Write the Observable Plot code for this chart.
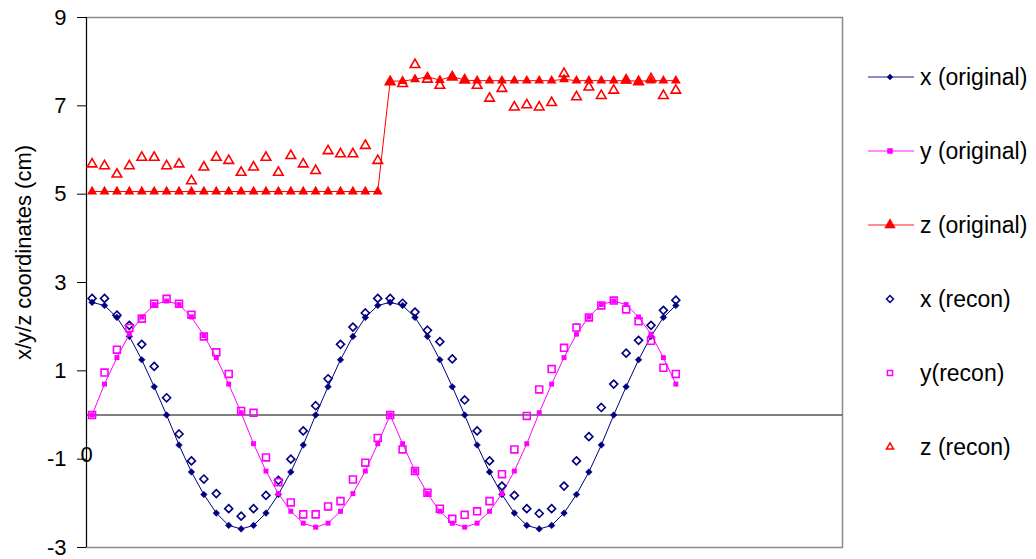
<!DOCTYPE html>
<html>
<head>
<meta charset="utf-8">
<script src="https://cdn.jsdelivr.net/npm/d3@7"></script>
<script src="https://cdn.jsdelivr.net/npm/@observablehq/plot@0.6"></script>
<style>
  html, body { margin: 0; padding: 0; background: #fff; }
  #wrap { position: relative; width: 1036px; height: 559px; font-family: Arial, "Liberation Sans", sans-serif; }
  #legend { position: absolute; left: 866px; top: 63px; display: flex; flex-direction: column; gap: 46px; }
  .row { display: flex; align-items: center; height: 28px; font-size: 23px; color: #000; white-space: nowrap; }
  .row svg { margin-right: 4px; }
</style>
</head>
<body>
<div id="wrap"><div id="legend"></div></div>
<script>
// ---- data ----
const sampleIndex = d3.range(48);
const xOriginal = [2.55, 2.48, 2.21, 1.78, 1.25, 0.64, 0, -0.68, -1.29, -1.80, -2.22, -2.50, -2.58, -2.50, -2.22, -1.80, -1.29, -0.68, 0, 0.64, 1.25, 1.78, 2.21, 2.48,
                   2.55, 2.48, 2.21, 1.78, 1.25, 0.64, 0, -0.68, -1.29, -1.80, -2.22, -2.50, -2.58, -2.50, -2.22, -1.80, -1.29, -0.68, 0, 0.64, 1.25, 1.78, 2.21, 2.48];
const yOriginal = [0, 0.70, 1.30, 1.83, 2.22, 2.50, 2.58, 2.50, 2.22, 1.80, 1.30, 0.70, 0.05, -0.65, -1.27, -1.78, -2.18, -2.45, -2.54, -2.45, -2.18, -1.78, -1.27, -0.65,
                   0, -0.65, -1.27, -1.78, -2.18, -2.45, -2.54, -2.45, -2.18, -1.78, -1.27, -0.65, 0.05, 0.70, 1.30, 1.83, 2.22, 2.50, 2.58, 2.50, 2.22, 1.83, 1.30, 0.70];
const zOriginal = [5.06, 5.06, 5.06, 5.06, 5.06, 5.06, 5.06, 5.06, 5.06, 5.06, 5.06, 5.06, 5.06, 5.06, 5.06, 5.06, 5.06, 5.06, 5.06, 5.06, 5.06, 5.06, 5.06, 5.06,
                   7.56, 7.56, 7.60, 7.66, 7.58, 7.67, 7.58, 7.57, 7.57, 7.57, 7.57, 7.57, 7.57, 7.57, 7.60, 7.57, 7.57, 7.57, 7.57, 7.57, 7.56, 7.57, 7.57, 7.57];
const xRecon = [2.64, 2.64, 2.26, 2.03, 1.60, 1.10, 0.39, -0.43, -1.04, -1.45, -1.78, -2.12, -2.29, -2.12, -1.82, -1.48, -1.00, -0.36, 0.21, 0.82, 1.60, 1.99, 2.31, 2.64,
                2.64, 2.53, 2.33, 1.92, 1.66, 1.27, 0.34, -0.36, -1.04, -1.61, -1.82, -2.12, -2.23, -2.12, -1.61, -1.04, -0.49, 0.17, 0.70, 1.40, 1.69, 2.03, 2.37, 2.60];
const yRecon = [0, 0.96, 1.48, 1.97, 2.18, 2.52, 2.63, 2.52, 2.27, 1.78, 1.42, 0.93, 0.09, 0.05, -0.96, -1.52, -1.98, -2.25, -2.25, -2.07, -1.95, -1.46, -1.08, -0.52,
                0, -0.78, -1.27, -1.76, -2.12, -2.35, -2.26, -2.18, -1.95, -1.34, -0.78, -0.02, 0.58, 1.04, 1.52, 1.98, 2.21, 2.48, 2.59, 2.39, 2.12, 1.68, 1.07, 0.93];
const zRecon = [5.68, 5.64, 5.45, 5.64, 5.83, 5.83, 5.64, 5.68, 5.30, 5.61, 5.83, 5.76, 5.49, 5.61, 5.83, 5.49, 5.87, 5.68, 5.53, 5.98, 5.91, 5.91, 6.10, 5.76,
                7.54, 7.50, 7.93, 7.60, 7.46, 7.65, 7.58, 7.46, 7.17, 7.39, 6.97, 7.02, 6.97, 7.07, 7.73, 7.20, 7.42, 7.23, 7.35, 7.58, 7.54, 7.61, 7.23, 7.35];
const yTicks = [-3, -1, 1, 3, 5, 7, 9];
const xTickLabel = "0";
const yAxisTitle = "x/y/z coordinates (cm)";
const seriesNames = ["x (original)", "y (original)", "z (original)", "x (recon)", "y(recon)", "z (recon)"];

// ---- styling ----
const NAVY = "#000080", MAG = "#FF00FF", RED = "#FF0000";
const xDomain = [-0.45, 60.42];

const rows = sampleIndex.map(i => ({
  i, xo: xOriginal[i], yo: yOriginal[i], zo: zOriginal[i],
  xr: xRecon[i], yr: yRecon[i], zr: zRecon[i]
}));

const chart = Plot.plot({
  width: 1036,
  height: 559,
  marginLeft: 86,
  marginRight: 194,
  marginTop: 17,
  marginBottom: 12,
  style: { fontFamily: 'Arial, "Liberation Sans", sans-serif', fontSize: "22px", background: "white", color: "black" },
  x: { domain: xDomain, axis: null },
  y: { domain: [-3, 9] },
  marks: [
    Plot.frame({ stroke: "#8a8a8a", strokeWidth: 1.5 }),
    Plot.ruleX([xDomain[0]], { stroke: "black", strokeWidth: 1 }),
    Plot.ruleY([0], { stroke: "black", strokeWidth: 1 }),
    Plot.axisY({
      ticks: yTicks, tickSize: 9, tickPadding: 11, tickFormat: d => String(d),
      fontSize: 22, label: null
    }),
    Plot.text([yAxisTitle], { frameAnchor: "left", rotate: -90, dx: -63, dy: -30, text: d => d, fontSize: 22, textAnchor: "middle", lineAnchor: "middle" }),
    Plot.text([xTickLabel], { x: () => xDomain[0], y: () => 0, text: d => d, dy: 40, fontSize: 22 }),
    // original series: lines + filled markers
    Plot.line(rows, { x: "i", y: "xo", stroke: NAVY, strokeWidth: 1 }),
    Plot.dot(rows, { x: "i", y: "xo", symbol: "diamond2", fill: NAVY, stroke: NAVY, strokeWidth: 0.5, r: 3 }),
    Plot.line(rows, { x: "i", y: "yo", stroke: MAG, strokeWidth: 1 }),
    Plot.dot(rows, { x: "i", y: "yo", symbol: "square", fill: MAG, r: 2.8 }),
    Plot.line(rows, { x: "i", y: "zo", stroke: RED, strokeWidth: 1 }),
    Plot.dot(rows, { x: "i", y: "zo", symbol: "triangle", fill: RED, r: 3.7 }),
    // reconstructed series: open markers
    Plot.dot(rows, { x: "i", y: "xr", symbol: "diamond2", stroke: NAVY, fill: "none", strokeWidth: 1.6, r: 3.6 }),
    Plot.dot(rows, { x: "i", y: "yr", symbol: "square2", stroke: MAG, fill: "none", strokeWidth: 1.6, r: 4.4 }),
    Plot.dot(rows, { x: "i", y: "zr", symbol: "triangle2", stroke: RED, fill: "none", strokeWidth: 1.6, r: 4.6 })
  ]
});
document.getElementById("wrap").prepend(chart);

// ---- legend ----
const legendSpec = [
  { name: seriesNames[0], color: NAVY, line: true, symbol: d3.symbolDiamond2, size: 22, filled: true },
  { name: seriesNames[1], color: MAG, line: true, symbol: d3.symbolSquare, size: 26, filled: true },
  { name: seriesNames[2], color: RED, line: true, symbol: d3.symbolTriangle, size: 50, filled: true },
  { name: seriesNames[3], color: NAVY, line: false, symbol: d3.symbolDiamond2, size: 30, filled: false },
  { name: seriesNames[4], color: MAG, line: false, symbol: d3.symbolSquare2, size: 34, filled: false },
  { name: seriesNames[5], color: RED, line: false, symbol: d3.symbolTriangle2, size: 36, filled: false }
];
const legend = d3.select("#legend");
legendSpec.forEach(s => {
  const row = legend.append("div").attr("class", "row");
  const svg = row.append("svg").attr("width", 50).attr("height", 28);
  if (s.line) svg.append("line").attr("x1", 2).attr("x2", 48).attr("y1", 14).attr("y2", 14)
    .attr("stroke", s.color).attr("stroke-opacity", 0.6).attr("stroke-width", 1.5);
  svg.append("path").attr("transform", "translate(24,14)")
    .attr("d", d3.symbol(s.symbol, s.size)())
    .attr("fill", s.filled ? s.color : "none")
    .attr("stroke", s.color).attr("stroke-width", s.filled ? 0.5 : 1.5);
  row.append("span").text(s.name);
});
</script>
</body>
</html>
